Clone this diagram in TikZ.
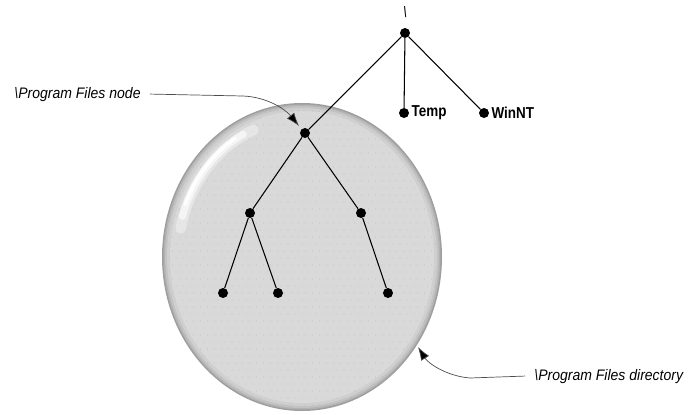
\documentclass[tikz,border=0pt]{standalone}
\usepackage{fontspec}
\setmainfont{Liberation Sans}
\newfontfamily\lblfont[FakeStretch=0.92]{Liberation Sans}
\newfontfamily\namefont[FakeStretch=0.85]{Liberation Sans}
\usetikzlibrary{arrows.meta,calc}
\pgfdeclarelayer{background}
\pgfdeclarelayer{main}
\pgfsetlayers{background,main}

\tikzset{
  dot/.style={circle, fill=black, inner sep=0pt, minimum size=3mm},
  edge/.style={line width=0.9pt},
  callout/.style={line width=0.6pt, draw=black!70, -{Latex[length=4mm,width=2.8mm,fill=black]}},
  lbl/.style={font=\lblfont\fontsize{13}{15}\selectfont\itshape, inner sep=1pt},
  dirname/.style={font=\namefont\fontsize{13.5}{15}\selectfont\bfseries, inner sep=1pt}
}

\begin{document}
\begin{tikzpicture}[x=0.03cm, y=-0.03cm]

\useasboundingbox (0,0) rectangle (690,415);

\begin{pgfonlayer}{background}
%directory blob, soft darker rim
\fill [black!38] (302,257) ellipse [x radius=140, y radius=154];
\fill [black!30] (302,257) ellipse [x radius=138.5, y radius=152.5];
\fill [black!24] (302,257) ellipse [x radius=137, y radius=151];
\fill [black!19] (302,257) ellipse [x radius=135, y radius=149];
\fill [black!15] (302,257) ellipse [x radius=132, y radius=146];

%faint dots
\begin{scope}
\clip (302,257) ellipse [x radius=138, y radius=152];
\foreach \i in {0,...,40} {
  \foreach \j in {0,...,22} {
    \fill [black!32] (162+\i*7,104+\j*14) circle (0.4pt);
    \fill [black!32] (165.5+\i*7,111+\j*14) circle (0.4pt);
  }
}
\end{scope}

%highlight on upper left
\draw [white, opacity=0.35, line width=9pt, line cap=round]
  ([shift={(-113:124 and 138)}]302,257) arc [start angle=-113, end angle=-168, x radius=124, y radius=138];
\draw [white, opacity=0.6, line width=6pt, line cap=round]
  ([shift={(-118:125 and 139)}]302,257) arc [start angle=-118, end angle=-163, x radius=125, y radius=139];
\draw [white, opacity=0.95, line width=3pt, line cap=round]
  ([shift={(-122:126 and 140)}]302,257) arc [start angle=-122, end angle=-158, x radius=126, y radius=140];
\end{pgfonlayer}

%tree nodes
\node (root) at (405,33) [dot] {};
\node (temp) at (404,113) [dot] {};
\node (winnt) at (484,113) [dot] {};
\node (progfiles) at (305,133) [dot] {};
\node (pfleft) at (250,213) [dot] {};
\node (pfright) at (361,213) [dot] {};
\node (leafa) at (223,293) [dot] {};
\node (leafb) at (278,293) [dot] {};
\node (leafc) at (388,293) [dot] {};

%names
\node (rootname) at (405,12) [lbl] {\textbackslash};
\node (tempname) [dirname, anchor=west] at ($(temp.east)+(1,0)$) {Temp};
\node (winntname) [dirname, anchor=west] at ($(winnt.east)+(1,0)$) {WinNT};

%edges
\draw [edge] (root) -- (temp);
\draw [edge] (root) -- (winnt);
\draw [edge] (root) -- (progfiles);
\draw [edge] (progfiles) -- (pfleft);
\draw [edge] (progfiles) -- (pfright);
\draw [edge] (pfleft) -- (leafa);
\draw [edge] (pfleft) -- (leafb);
\draw [edge] (pfright) -- (leafc);

%callouts
\node (nodelbl) [lbl, anchor=base west] at (13,98) {\textbackslash Program Files node};
\coordinate (nodebend) at (243,96);
\draw [callout] ($(nodelbl.east)+(8,0)$) -- (nodebend)
  .. controls (268,97) and (286,110) .. ($(progfiles)+(-6,-7)$);

\node (dirlbl) [lbl, anchor=base west] at (533,380) {\textbackslash Program Files directory};
\coordinate (dirbend) at (470,378);
\draw [callout] ($(dirlbl.west)+(-8,0)$) -- (dirbend)
  .. controls (446,376) and (428,363) .. (418,347);

\end{tikzpicture}
\end{document}
